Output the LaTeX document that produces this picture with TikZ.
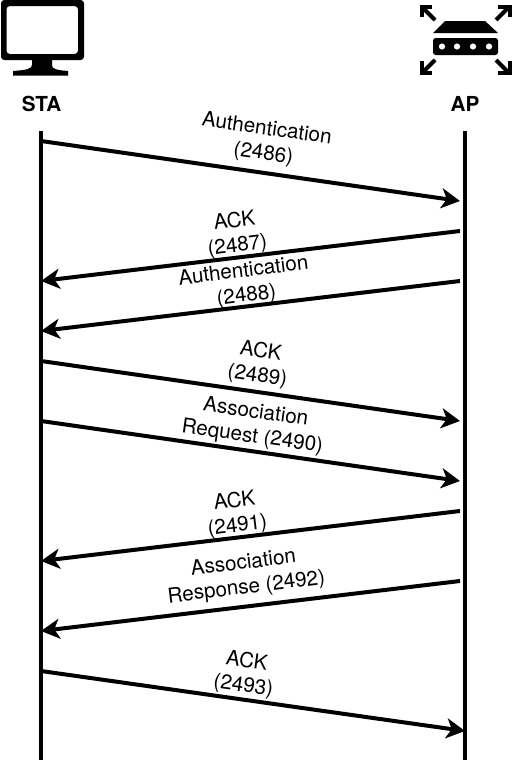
\documentclass[tikz,border=0pt]{standalone}
\usepackage{fontspec}
\setmainfont{TeX Gyre Heros}
\usetikzlibrary{arrows.meta}
\tikzset{
  px/.style={x=0.75pt,y=-0.75pt},
  life/.style={line width=3pt,black},
  msg/.style={line width=3pt,black,-{Stealth[length=14pt,width=15pt,inset=4pt]}},
  lab/.style={inner sep=0pt,align=center,font=\fontsize{15.5}{18.5}\selectfont},
  head/.style={inner sep=0pt,font=\fontsize{15.5}{17}\selectfont\bfseries},
  ico/.style={fill=black,draw=none},
  arr/.style={line width=3pt,black}
}
\begin{document}
\begin{tikzpicture}[px]
\useasboundingbox (0,0) rectangle (511,764);
% STA icon
\fill[ico,rounded corners=2.5pt,even odd rule] (1,0) rectangle (84,60) (6.5,6) rectangle (78,54);
\fill[ico] (32,59) -- (52,59) -- (52,65) .. controls (52,69) and (56,70) .. (68,71) -- (68,75.5) -- (13,75.5) -- (13,71) .. controls (26,70) and (32,69) .. (32,65) -- cycle;
% AP icon
\fill[ico] (445,21) -- (485,21) -- (498,33) -- (433,33) -- cycle;
\fill[ico,rounded corners=2pt] (433,38) rectangle (498,55);
\foreach \x in {442,457,473,489} \fill[white] (\x,46.5) circle (3.1);
\draw[arr] (423,8) -- (435,20); \draw[arr] (421.5,17) -- (421.5,6.5) -- (432,6.5);
\draw[arr] (508,8) -- (496,20); \draw[arr] (498,6.5) -- (509.5,6.5) -- (509.5,17);
\draw[arr] (423,72) -- (435,60); \draw[arr] (421.5,61) -- (421.5,73) -- (432,73);
\draw[arr] (508,72) -- (496,60); \draw[arr] (509.5,61) -- (509.5,73) -- (498,73);
% Headers
\node[head] (sta) at (41.5,104) {STA};
\node[head] (ap) at (465,104) {AP};
% Labels
\node[lab,rotate=-8] (l1) at (265,142) {Authentication\\(2486)};
\node[lab,rotate=7] (l2) at (236,234) {ACK\\(2487)};
\node[lab,rotate=7] (l3) at (245,284) {Authentication\\(2488)};
\node[lab,rotate=-8] (l4) at (259,364) {ACK\\(2489)};
\node[lab,rotate=-8] (l5) at (254,425) {Association\\Request (2490)};
\node[lab,rotate=7] (l6) at (236,514) {ACK\\(2491)};
\node[lab,rotate=7] (l7) at (245,576) {Association\\Response (2492)};
\node[lab,rotate=-8] (l8) at (245,674) {ACK\\(2493)};
% Lifelines
\coordinate (s0) at (41,131); \coordinate (s1) at (41,760);
\coordinate (a0) at (465,131); \coordinate (a1) at (465,760);
\draw[life] (s0) -- (s1);
\draw[life] (a0) -- (a1);
% Messages
\coordinate (m1a) at (41,141);  \coordinate (m1b) at (460,201);
\coordinate (m2a) at (460,231); \coordinate (m2b) at (41,281);
\coordinate (m3a) at (460,281); \coordinate (m3b) at (41,331);
\coordinate (m4a) at (41,361);  \coordinate (m4b) at (460,421);
\coordinate (m5a) at (41,421);  \coordinate (m5b) at (460,481);
\coordinate (m6a) at (460,511); \coordinate (m6b) at (41,561);
\coordinate (m7a) at (460,581); \coordinate (m7b) at (41,631);
\coordinate (m8a) at (41,671);  \coordinate (m8b) at (465,731);
\draw[msg] (m1a) -- (m1b);
\draw[msg] (m2a) -- (m2b);
\draw[msg] (m3a) -- (m3b);
\draw[msg] (m4a) -- (m4b);
\draw[msg] (m5a) -- (m5b);
\draw[msg] (m6a) -- (m6b);
\draw[msg] (m7a) -- (m7b);
\draw[msg] (m8a) -- (m8b);
\end{tikzpicture}
\end{document}
